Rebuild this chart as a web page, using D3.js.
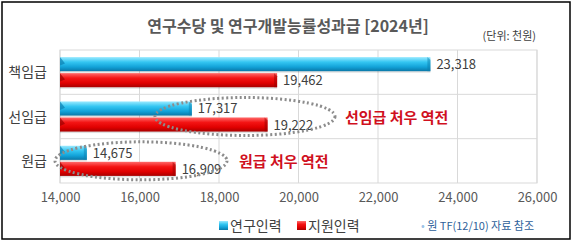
<!DOCTYPE html>
<html>
<head>
<meta charset="utf-8">
<script src="https://cdn.jsdelivr.net/npm/d3@7"></script>
<style>
  body { margin: 0; background: #fff; }
  svg { display: block; font-family: "Noto Sans CJK KR", "Noto Sans", sans-serif; }
</style>
</head>
<body>
<svg width="572" height="243"></svg>
<script>
const categories = ['책임급', '선임급', '원급']
const seriesNames = ['연구인력', '지원인력']
const research = [23318, 17317, 14675]
const support = [19462, 19222, 16909]
const xTicks = [14000, 16000, 18000, 20000, 22000, 24000, 26000]

const rows = categories.map((c, i) => ({ cat: c, values: [research[i], support[i]] }))

const svg = d3.select('svg')
const margin = { top: 50, right: 35, bottom: 60, left: 60 }
const width = 572, height = 243
const x = d3.scaleLinear().domain([14000, 26000]).range([margin.left, width - margin.right])
const y0 = d3.scaleBand().domain(categories).range([margin.top, height - margin.bottom])
  .paddingInner(0.32).paddingOuter(0.16)
const y1 = d3.scaleBand().domain(seriesNames).range([0, y0.bandwidth()]).paddingInner(0.12)

const defs = svg.append('defs')
const grads = [
  { id: 'gBlue', stops: ['#9beaff', '#34c6f2', '#12a2d8', '#0a78a8'] },
  { id: 'gRed', stops: ['#ff6a6a', '#f41414', '#e00000', '#a80000'] },
]
grads.forEach(g => {
  const lg = defs.append('linearGradient').attr('id', g.id).attr('x1', 0).attr('y1', 0).attr('x2', 0).attr('y2', 1)
  g.stops.forEach((s, i) => lg.append('stop').attr('offset', [0, 0.35, 0.7, 1][i]).attr('stop-color', s))
})
const colors = ['url(#gBlue)', 'url(#gRed)']
const bevel = ['#0b7fb0', '#9a0000']

// outer frame
svg.append('rect').attr('x', 2).attr('y', 2).attr('width', 568).attr('height', 237)
  .attr('fill', 'none').attr('stroke', '#000').attr('stroke-width', 1.5)

// title
svg.append('text').attr('x', 288).attr('y', 32).attr('text-anchor', 'middle')
  .attr('font-size', 16).attr('font-weight', 'bold').attr('fill', '#595959')
  .text('연구수당 및 연구개발능률성과급 [2024년]')
svg.append('text').attr('x', 536).attr('y', 40).attr('text-anchor', 'end')
  .attr('font-size', 11).attr('fill', '#404040').text('(단위: 천원)')

// grid
const step = y0.step()
const plot = svg.append('g')
plot.selectAll('line.v').data(xTicks).join('line').classed('v', true)
  .attr('x1', d => x(d)).attr('x2', d => x(d))
  .attr('y1', margin.top).attr('y2', height - margin.bottom)
  .attr('stroke', '#d9d9d9')
plot.selectAll('line.h').data(categories.slice(1)).join('line').classed('h', true)
  .attr('x1', x.range()[0]).attr('x2', x.range()[1])
  .attr('y1', d => y0(d) - step * 0.16).attr('y2', d => y0(d) - step * 0.16)
  .attr('stroke', '#d9d9d9')
plot.append('rect').attr('x', x.range()[0]).attr('y', margin.top)
  .attr('width', x.range()[1] - x.range()[0]).attr('height', height - margin.bottom - margin.top)
  .attr('fill', 'none').attr('stroke', '#d9d9d9')

// x axis
const xAxis = svg.append('g').attr('transform', `translate(0, ${height - margin.bottom})`)
  .call(d3.axisBottom(x).tickValues(xTicks).tickFormat(d3.format(',')).tickSize(0).tickPadding(10))
xAxis.select('.domain').remove()
xAxis.selectAll('text').attr('font-size', 13).attr('fill', '#595959')
  .attr('font-family', '"Noto Sans CJK KR", sans-serif')

// y labels
svg.selectAll('text.cat').data(categories).join('text').classed('cat', true)
  .attr('x', 47).attr('y', d => y0(d) + y0.bandwidth() / 2 + 5)
  .attr('text-anchor', 'end').attr('font-size', 14).attr('fill', '#404040').text(d => d)

// bars
const groups = svg.selectAll('g.grp').data(rows).join('g').classed('grp', true)
  .attr('transform', d => `translate(0, ${y0(d.cat)})`)
const bars = groups.selectAll('g.bar')
  .data(d => d.values.map((v, i) => ({ v, i, s: seriesNames[i] })))
  .join('g').classed('bar', true)
bars.append('rect')
  .attr('x', x(14000)).attr('y', d => y1(d.s) + 1.5)
  .attr('width', d => x(d.v) - x(14000)).attr('height', y1.bandwidth())
  .attr('fill', '#000').attr('opacity', 0.12)
bars.append('rect')
  .attr('x', x(14000)).attr('y', d => y1(d.s))
  .attr('width', d => x(d.v) - x(14000)).attr('height', y1.bandwidth())
  .attr('fill', d => colors[d.i])
bars.append('path')
  .attr('d', d => {
    const x0 = x(14000), yy = y1(d.s), h = y1.bandwidth()
    return `M${x0},${yy}L${x0 + 5},${yy + h * 0.45}L${x0},${yy + h * 0.6}Z`
  })
  .attr('fill', d => bevel[d.i]).attr('opacity', 0.7)
bars.append('path')
  .attr('d', d => {
    const x1 = x(d.v), yy = y1(d.s), h = y1.bandwidth()
    return `M${x1 - 3},${yy}L${x1},${yy + 3}L${x1},${yy + h}L${x1 - 3},${yy + h}Z`
  })
  .attr('fill', d => bevel[d.i]).attr('opacity', 0.5)
bars.append('text')
  .attr('x', d => x(d.v) + 6).attr('y', d => y1(d.s) + y1.bandwidth() / 2 + 5)
  .attr('font-size', 13).attr('fill', '#404040')
  .text(d => d3.format(',')(d.v))

// annotations
const notes = [
  { cat: '선임급', cx: 245, rx: 90, tx: 345, text: '선임급 처우 역전' },
  { cat: '원급', cx: 141, rx: 86, tx: 239, text: '원급 처우 역전' },
]
notes.forEach(n => {
  const cy = y0(n.cat) + y0.bandwidth() / 2
  svg.append('ellipse').attr('cx', n.cx).attr('cy', cy).attr('rx', n.rx).attr('ry', 19)
    .attr('fill', 'none').attr('stroke', '#8c8c8c').attr('stroke-width', 3)
    .attr('stroke-dasharray', '2,2.5')
  svg.append('text').attr('x', n.tx).attr('y', cy + 6)
    .attr('font-size', 15).attr('font-weight', 'bold').attr('fill', '#d0101e').text(n.text)
})

// legend
const legend = svg.append('g').attr('transform', 'translate(219, 226)')
const li = legend.selectAll('g').data(seriesNames).join('g')
  .attr('transform', (d, i) => `translate(${i * 78}, 0)`)
li.append('rect').attr('x', 0).attr('y', -5).attr('width', 9).attr('height', 9)
  .attr('fill', (d, i) => colors[i])
li.append('text').attr('x', 11).attr('y', 5).attr('font-size', 14).attr('fill', '#404040').text(d => d)

const src = svg.append('text').attr('x', 421).attr('y', 230).attr('font-size', 11).attr('fill', '#2e5f9a')
src.append('tspan').attr('fill', '#9dc3e6').text('• ')
src.append('tspan').text('원 TF(12/10) 자료 참조')
</script>
</body>
</html>
